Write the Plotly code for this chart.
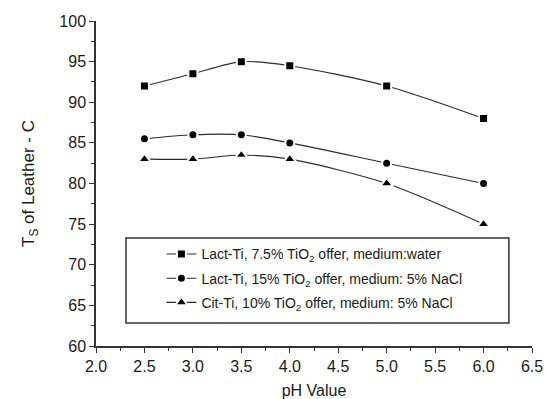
import plotly.graph_objects as go

ph = [2.5, 3.0, 3.5, 4.0, 5.0, 6.0]
lact_water = [92.0, 93.5, 95.0, 94.5, 92.0, 88.0]
lact_nacl = [85.5, 86.0, 86.0, 85.0, 82.5, 80.0]
cit_nacl = [83.0, 83.0, 83.5, 83.0, 80.0, 75.0]

names = [
    "Lact-Ti, 7.5% TiO<sub>2</sub> offer, medium:water",
    "Lact-Ti, 15% TiO<sub>2</sub> offer, medium: 5% NaCl",
    "Cit-Ti, 10% TiO<sub>2</sub> offer, medium: 5% NaCl",
]
symbols = ["square", "circle", "triangle-up"]
sizes = [9, 9, 11]
series = [lact_water, lact_nacl, cit_nacl]

fig = go.Figure()
for i, (name, sym, sz, ys) in enumerate(zip(names, symbols, sizes, series)):
    fig.add_trace(go.Scatter(
        x=ph, y=ys, name=name, mode="lines+markers", legendgroup=f"g{i}",
        line=dict(color="#2a2a2a", width=1.1, shape="spline", smoothing=0.8),
        marker=dict(symbol=sym, size=sz, color="black",
                    line=dict(color="white", width=2)),
    ))

FONT = "Arial, Liberation Sans, sans-serif"
axis_font = dict(family=FONT, size=16, color="#1a1a1a")
fig.update_layout(
    width=547, height=399,
    margin=dict(l=96, r=15, t=21, b=53, autoexpand=False),
    paper_bgcolor="white", plot_bgcolor="white",
    font=dict(family=FONT, size=14, color="#1a1a1a"),
    showlegend=True,
    legend=dict(x=0.15, y=0.331, xanchor="left", yanchor="top",
                borderwidth=0, bgcolor="rgba(0,0,0,0)",
                font=dict(family=FONT, size=14, color="#1a1a1a"),
                tracegroupgap=3, itemwidth=30),
    shapes=[dict(type="rect", xref="paper", yref="paper",
                 x0=0.0688, x1=0.947, y0=0.0708, y1=0.332,
                 line=dict(color="#333", width=1.5), fillcolor="rgba(0,0,0,0)",
                 layer="below")],
)
fig.update_xaxes(
    range=[2.0, 6.5], tick0=2.0, dtick=0.5, tickformat=".1f",
    showline=True, linecolor="#333", linewidth=1.5, mirror=False, automargin=False,
    ticks="outside", ticklen=5, tickcolor="#333", showgrid=False, zeroline=False,
    minor=dict(ticks="outside", ticklen=3, dtick=0.25, tickcolor="#333"),
    tickfont=axis_font,
    title=dict(text="pH Value", font=axis_font, standoff=14),
)
fig.update_yaxes(
    range=[60, 100], tick0=60, dtick=5,
    showline=True, linecolor="#333", linewidth=1.5, mirror=False, automargin=False,
    ticks="outside", ticklen=5, tickcolor="#333", showgrid=False, zeroline=False,
    minor=dict(ticks="outside", ticklen=3, dtick=2.5, tickcolor="#333"),
    tickfont=axis_font,
    title=dict(text="T<sub>S</sub> of Leather - C",
               font=dict(family=FONT, size=17, color="#1a1a1a"), standoff=20),
)
fig.write_html("out.html", config={"displayModeBar": False},
               post_script="document.body.style.margin='0';document.body.style.overflow='hidden';")
